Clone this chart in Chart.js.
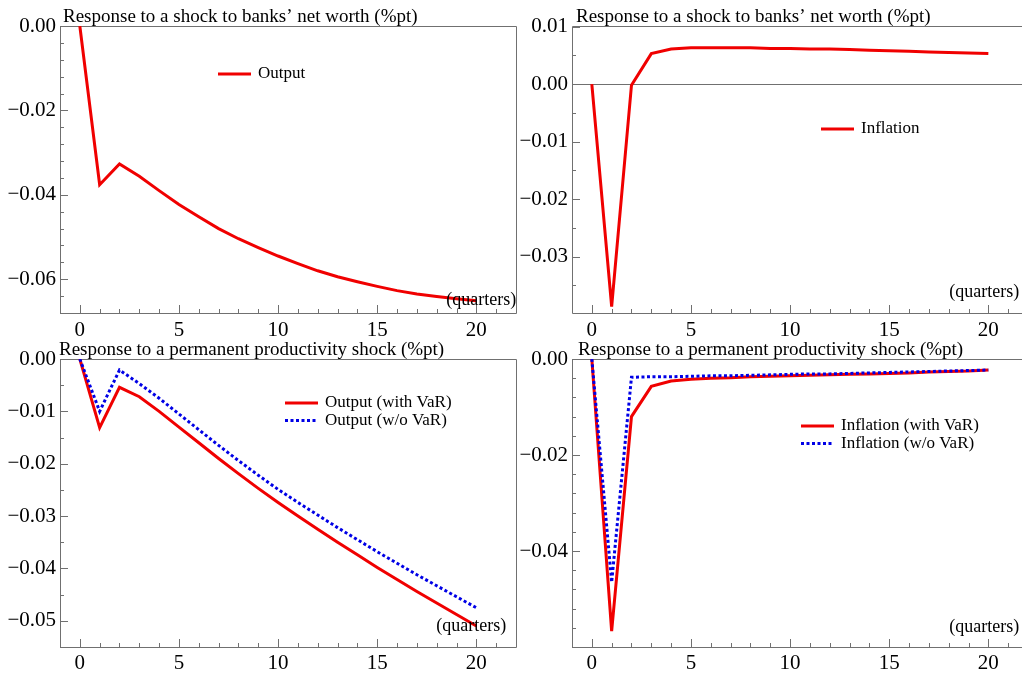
<!DOCTYPE html>
<html>
<head>
<meta charset="utf-8">
<script src="https://cdn.jsdelivr.net/npm/chart.js@4.4.1/dist/chart.umd.min.js"></script>
<style>
html, body { margin: 0; padding: 0; background: #fff; overflow: hidden; }
#hoja { position: relative; width: 1022px; height: 675px; overflow: hidden; }
canvas { position: absolute; }
</style>
</head>
<body>
<div id="hoja">
<canvas id="c1" width="522" height="337" style="left:0;top:0"></canvas>
<canvas id="c2" width="522" height="337" style="left:512px;top:0"></canvas>
<canvas id="c3" width="522" height="338" style="left:0;top:337px"></canvas>
<canvas id="c4" width="522" height="338" style="left:512px;top:337px"></canvas>
</div>
<script>
// horizonte (trimestres) y etiquetas de los ejes
var quarters = [0, 1, 2, 3, 4, 5, 6, 7, 8, 9, 10, 11, 12, 13, 14, 15, 16, 17, 18, 19, 20];
var xTicks = [0, 5, 10, 15, 20];
var y1Ticks = [0, -0.02, -0.04, -0.06];
var y2Ticks = [0.01, 0, -0.01, -0.02, -0.03];
var y3Ticks = [0, -0.01, -0.02, -0.03, -0.04, -0.05];
var y4Ticks = [0, -0.02, -0.04];

// shock al patrimonio de los bancos
var nwOutput = [0, -0.0376, -0.0327, -0.0356, -0.0390, -0.0423, -0.0452, -0.0480, -0.0504, -0.0525, -0.0545,
    -0.0563, -0.0580, -0.0594, -0.0606, -0.0617, -0.0627, -0.0635, -0.0641, -0.0646, -0.0651];
var nwInflation = [0, -0.0387, -0.0002, 0.0053, 0.0061, 0.0063, 0.0063, 0.0063, 0.0063, 0.0062, 0.0062,
    0.0061, 0.0061, 0.0060, 0.0059, 0.0058, 0.0057, 0.0056, 0.0055, 0.0054, 0.0053];

// shock permanente de productividad
var prodOutputVaR = [0, -0.0131, -0.0054, -0.0072, -0.0100, -0.0130, -0.0160, -0.0190, -0.0219, -0.0247, -0.0274,
    -0.0300, -0.0325, -0.0350, -0.0374, -0.0398, -0.0421, -0.0444, -0.0466, -0.0488, -0.0510];
var prodOutputNoVaR = [0, -0.0100, -0.0021, -0.0047, -0.0075, -0.0105, -0.0135, -0.0165, -0.0194, -0.0222, -0.0249,
    -0.0274, -0.0298, -0.0322, -0.0345, -0.0368, -0.0390, -0.0412, -0.0433, -0.0454, -0.0475];
var prodInflVaR = [0, -0.0567, -0.0120, -0.0057, -0.0046, -0.0042, -0.0040, -0.0039, -0.0037, -0.0036, -0.0035,
    -0.0034, -0.0033, -0.0032, -0.0031, -0.0030, -0.0029, -0.0027, -0.0026, -0.0025, -0.0023];
var prodInflNoVaR = [0, -0.0465, -0.0038, -0.0037, -0.0037, -0.0036, -0.0035, -0.0035, -0.0034, -0.0033, -0.0032,
    -0.0031, -0.0031, -0.0030, -0.0029, -0.0028, -0.0027, -0.0026, -0.0025, -0.0024, -0.0023];

var RED = '#f00000';
var BLUE = '#0000e6';
var FRAME = '#707070';
var FONT = "'Liberation Serif', 'DejaVu Serif', serif";

Chart.defaults.font.family = FONT;
Chart.defaults.color = '#000';

function puntos(vals) {
    return quarters.map(function (q, i) { return { x: q, y: vals[i] }; });
}

function serie(label, vals, dashed) {
    return {
        label: label,
        data: puntos(vals),
        borderColor: dashed ? BLUE : RED,
        borderWidth: 3,
        borderDash: dashed ? [3, 2.5] : [],
        pointRadius: 0,
        tension: 0,
        fill: false,
        order: dashed ? 0 : 1   // la punteada va encima
    };
}

// marco, marcas hacia adentro, titulo, leyenda y "(quarters)"
var panelDeco = {
    id: 'panelDeco',
    beforeDatasetsDraw: function (chart, args, o) {
        var ctx = chart.ctx, a = chart.chartArea, x = chart.scales.x, y = chart.scales.y;
        var l = Math.round(a.left) + 0.5, r = Math.round(a.right) + 0.5;
        var t = Math.round(a.top) + 0.5, b = Math.round(a.bottom) + 0.5;
        ctx.save();
        ctx.strokeStyle = FRAME;
        ctx.lineWidth = 1;
        ctx.beginPath();
        ctx.moveTo(r, t); ctx.lineTo(l, t); ctx.lineTo(l, b); ctx.lineTo(r, b);
        if (o.rightEdge) { ctx.lineTo(r, t); }
        ctx.stroke();
        if (o.zeroLine) {
            var pz = Math.round(y.getPixelForValue(0)) + 0.5;
            ctx.beginPath(); ctx.moveTo(a.left, pz); ctx.lineTo(a.right, pz); ctx.stroke();
        }
        ctx.beginPath();
        for (var v = 0; v <= 21; v++) {
            var px = Math.round(x.getPixelForValue(v)) + 0.5;
            var len = v % 5 === 0 ? 8 : 4;
            ctx.moveTo(px, a.bottom); ctx.lineTo(px, a.bottom - len);
        }
        var n0 = Math.ceil(y.min / o.yMinor - 1e-6), n1 = Math.floor(y.max / o.yMinor + 1e-6);
        for (var n = n0; n <= n1; n++) {
            var val = n * o.yMinor;
            var q = val / o.yMajor;
            var major = Math.abs(q - Math.round(q)) < 1e-6;
            var py = Math.round(y.getPixelForValue(val)) + 0.5;
            ctx.moveTo(a.left, py); ctx.lineTo(a.left + (major ? 8 : 4), py);
        }
        ctx.stroke();
        ctx.restore();
    },
    afterDraw: function (chart, args, o) {
        var ctx = chart.ctx, a = chart.chartArea, x = chart.scales.x;
        ctx.save();
        ctx.fillStyle = '#000';
        ctx.textBaseline = 'alphabetic';
        ctx.font = '19px ' + FONT;
        ctx.fillText(o.title, a.left + o.titleDx, a.top - 4.5);
        ctx.font = '18px ' + FONT;
        ctx.textBaseline = 'middle';
        ctx.fillText('(quarters)', x.getPixelForValue(20) + o.qDx, a.top + o.qY);
        ctx.font = '17px ' + FONT;
        chart.data.datasets.forEach(function (ds, i) {
            var ly = a.top + o.legY + i * 17.5;
            ctx.save();
            ctx.strokeStyle = ds.borderColor;
            ctx.lineWidth = ds.borderWidth;
            ctx.setLineDash(ds.borderDash);
            ctx.beginPath();
            ctx.moveTo(o.legX, ly); ctx.lineTo(o.legX + 33, ly);
            ctx.stroke();
            ctx.restore();
            ctx.fillText(ds.label, o.legX + 40, ly);
        });
        ctx.restore();
    }
};

function fmt(v) {
    return (v < 0 ? '\u2212' : '') + Math.abs(v).toFixed(2);
}

function grafico(id, datasets, yTicks, yMin, yMax, c) {
    return new Chart(document.getElementById(id), {
        type: 'line',
        data: { datasets: datasets },
        options: {
            responsive: false,
            animation: false,
            events: [],
            layout: { padding: { top: c.padTop, right: 6, bottom: 0, left: 0 } },
            plugins: {
                legend: { display: false },
                tooltip: { enabled: false },
                panelDeco: c.deco
            },
            scales: {
                x: {
                    type: 'linear', min: -1, max: 22,
                    afterFit: function (s) { s.height = c.xAxisH; },
                    afterBuildTicks: function (s) { s.ticks = xTicks.map(function (v) { return { value: v }; }); },
                    grid: { display: false, drawTicks: false },
                    border: { display: false },
                    ticks: { padding: c.xPad, font: { size: 21 }, maxRotation: 0, autoSkip: false }
                },
                y: {
                    min: yMin, max: yMax,
                    afterFit: function (s) { s.width = 60; },
                    afterBuildTicks: function (s) { s.ticks = yTicks.map(function (v) { return { value: v }; }); },
                    grid: { display: false, drawTicks: false },
                    border: { display: false },
                    ticks: { padding: 4, font: { size: 21 }, autoSkip: false, callback: fmt }
                }
            }
        },
        plugins: [panelDeco]
    });
}

grafico('c1', [serie('Output', nwOutput, false)], y1Ticks, -0.068, 0, {
    padTop: 26, xAxisH: 24, xPad: 5,
    deco: { title: 'Response to a shock to banks\u2019 net worth (%pt)', titleDx: 3, yMinor: 0.004, yMajor: 0.02,
        rightEdge: true, legX: 218, legY: 48, qDx: -30, qY: 274 }
});
grafico('c2', [serie('Inflation', nwInflation, false)], y2Ticks, -0.0398, 0.0101, {
    padTop: 26, xAxisH: 24, xPad: 5,
    deco: { title: 'Response to a shock to banks\u2019 net worth (%pt)', titleDx: 4, yMinor: 0.005, yMajor: 0.01,
        rightEdge: false, zeroLine: true, legX: 309, legY: 103, qDx: -39, qY: 266 }
});
grafico('c3', [serie('Output (with VaR)', prodOutputVaR, false), serie('Output (w/o VaR)', prodOutputNoVaR, true)],
    y3Ticks, -0.055, 0, {
    padTop: 22, xAxisH: 28, xPad: 4,
    deco: { title: 'Response to a permanent productivity shock (%pt)', titleDx: -1, yMinor: 0.005, yMajor: 0.01,
        rightEdge: true, legX: 285, legY: 44, qDx: -40, qY: 267 }
});
grafico('c4', [serie('Inflation (with VaR)', prodInflVaR, false), serie('Inflation (w/o VaR)', prodInflNoVaR, true)],
    y4Ticks, -0.06, 0, {
    padTop: 22, xAxisH: 28, xPad: 4,
    deco: { title: 'Response to a permanent productivity shock (%pt)', titleDx: 6, yMinor: 0.004, yMajor: 0.02,
        rightEdge: false, legX: 289, legY: 67, qDx: -39, qY: 268 }
});
</script>
</body>
</html>
